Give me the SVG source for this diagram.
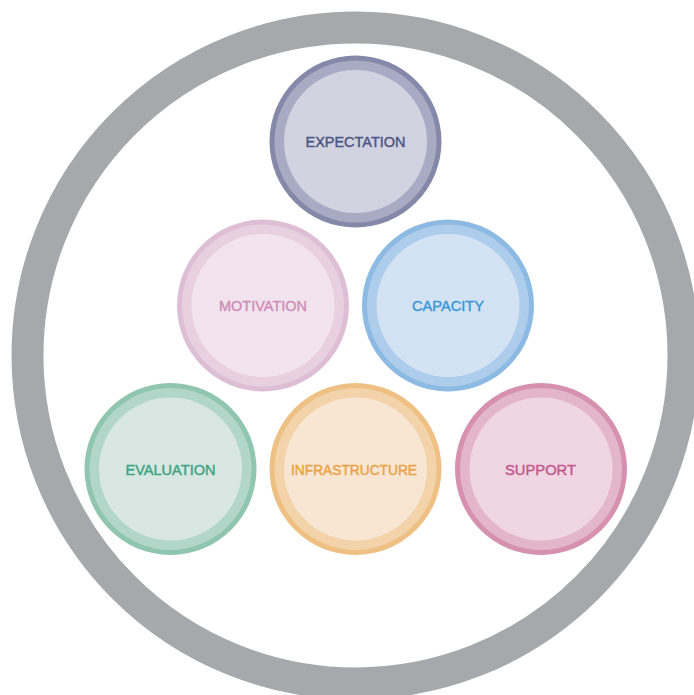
<svg xmlns="http://www.w3.org/2000/svg" width="694" height="695" viewBox="0 0 694 695">
  <style>
    /* labels: slightly thickened sans caps */
    .lbl { font-family: "Liberation Sans", Arial, Helvetica, sans-serif; font-size: 15px; text-anchor: middle; stroke-width: 0.45; paint-order: fill stroke; }
  </style>
  <rect width="694" height="695" fill="#ffffff"/>

  <!-- enclosing ring -->
  <g id="frame">
    <circle cx="355.5" cy="355.5" r="328" fill="none" stroke="#A7A8AB" stroke-width="32"/>
  </g>

  <g id="connectors"></g>

  <!-- each disc: dark rim, softer ring, light face -->
  <g id="expectation">
    <circle cx="355.5" cy="141.5" r="86" fill="#8589A9"/>
    <circle cx="355.5" cy="141.5" r="81" fill="#A9ABC4"/>
    <circle cx="355.5" cy="141.5" r="71.5" fill="#D2D3E0"/>
    <text class="lbl" x="355.5" y="147" fill="#4B5684" stroke="#4B5684" textLength="100" lengthAdjust="spacingAndGlyphs">EXPECTATION</text>
  </g>

  <g id="motivation">
    <circle cx="263" cy="305.5" r="86" fill="#DEBED4"/>
    <circle cx="263" cy="305.5" r="81" fill="#E9D0E0"/>
    <circle cx="263" cy="305.5" r="71.5" fill="#F2E4EE"/>
    <text class="lbl" x="263" y="311" fill="#D08EB9" stroke="#D08EB9" textLength="88" lengthAdjust="spacingAndGlyphs">MOTIVATION</text>
  </g>

  <g id="capacity">
    <circle cx="448" cy="305.5" r="86" fill="#8CBAE3"/>
    <circle cx="448" cy="305.5" r="81" fill="#AECDEC"/>
    <circle cx="448" cy="305.5" r="71.5" fill="#D4E3F4"/>
    <text class="lbl" x="448" y="311" fill="#3A98D5" stroke="#3A98D5" textLength="72" lengthAdjust="spacingAndGlyphs">CAPACITY</text>
  </g>

  <g id="evaluation">
    <circle cx="170.5" cy="469" r="86" fill="#90C5B2"/>
    <circle cx="170.5" cy="469" r="81" fill="#B2D6C9"/>
    <circle cx="170.5" cy="469" r="71.5" fill="#D8E7E1"/>
    <text class="lbl" x="170.5" y="474.5" fill="#3DA585" stroke="#3DA585" textLength="90" lengthAdjust="spacingAndGlyphs">EVALUATION</text>
  </g>

  <g id="infrastructure">
    <circle cx="355.5" cy="469" r="86" fill="#EFC083"/>
    <circle cx="355.5" cy="469" r="81" fill="#F3D3A9"/>
    <circle cx="355.5" cy="469" r="71.5" fill="#F8E6D3"/>
    <text class="lbl" x="354" y="474.5" fill="#E8A346" stroke="#E8A346" textLength="126" lengthAdjust="spacingAndGlyphs">INFRASTRUCTURE</text>
  </g>

  <g id="support">
    <circle cx="541" cy="469" r="86" fill="#D690B0"/>
    <circle cx="541" cy="469" r="81" fill="#E4B6CB"/>
    <circle cx="541" cy="469" r="71.5" fill="#F0D6E3"/>
    <text class="lbl" x="540.5" y="474.5" fill="#C2598D" stroke="#C2598D" textLength="71" lengthAdjust="spacingAndGlyphs">SUPPORT</text>
  </g>
</svg>
